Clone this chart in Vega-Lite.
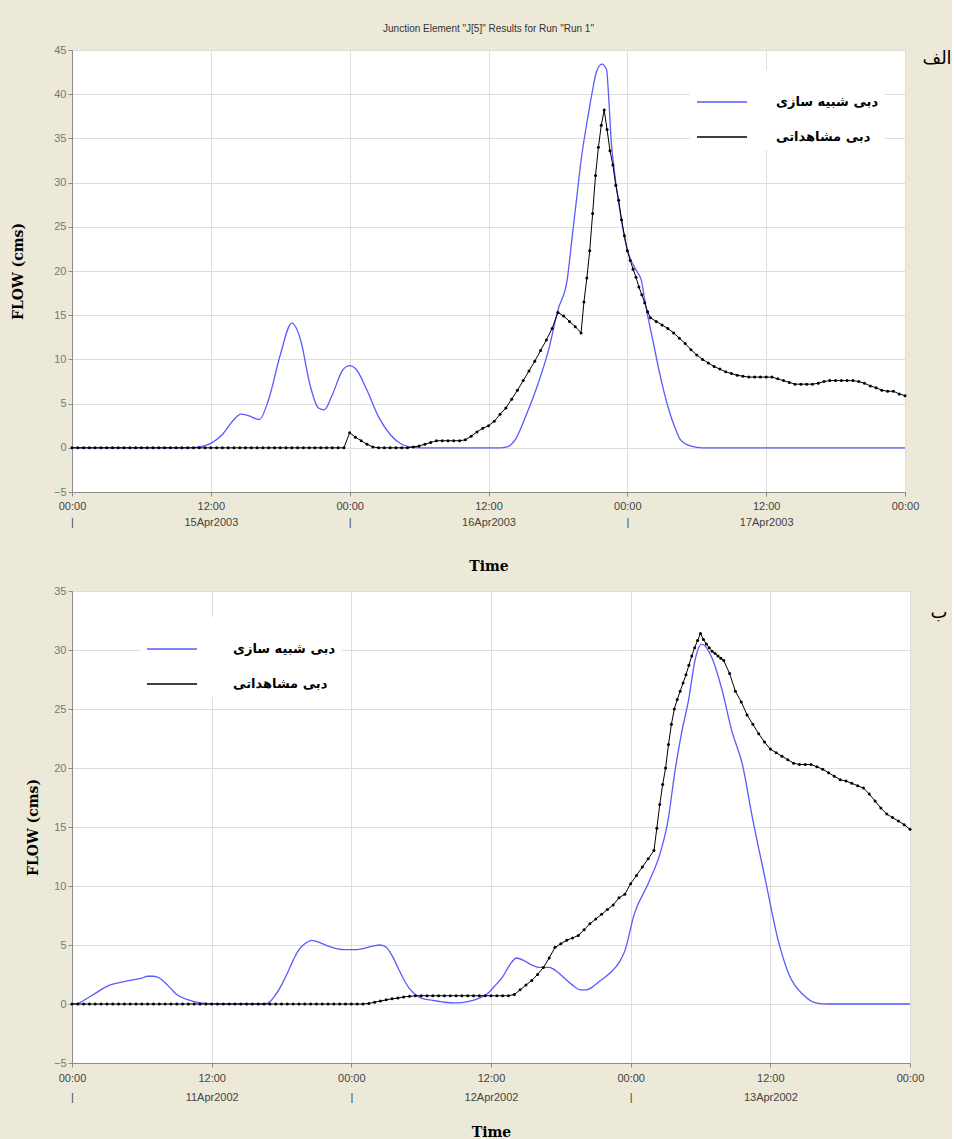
{
"$schema": "https://vega.github.io/schema/vega-lite/v6.json",
"background": "#ECE9D8",
"padding": {"left": 10, "top": 23, "right": 0, "bottom": 0},
"spacing": 10,
"resolve": {"scale": {"color": "independent"}, "legend": {"color": "independent"}},
"config": {
  "view": {"stroke": "#9a9a9a", "fill": "white"},
  "axis": {"domainColor": "#8c8c8c", "tickColor": "#8c8c8c", "tickSize": 4, "gridColor": "#dedede", "labelFont": "Liberation Sans", "labelFontSize": 11, "titleFont": "DejaVu Serif", "titleFontSize": 14, "titleFontWeight": "bold", "titleColor": "black"},
  "axisX": {"labelColor": "#444444"},
  "axisY": {"labelColor": "#777777"}
},
"datasets": {
"topSim": [
{"t":"2003-04-15T00:00Z","v":0},{"t":"2003-04-15T10:00Z","v":0},{"t":"2003-04-15T11:00Z","v":0.1},{"t":"2003-04-15T12:00Z","v":0.5},{"t":"2003-04-15T13:00Z","v":1.5},{"t":"2003-04-15T14:00Z","v":3.2},{"t":"2003-04-15T14:36Z","v":3.8},{"t":"2003-04-15T15:18Z","v":3.6},{"t":"2003-04-15T16:12Z","v":3.2},{"t":"2003-04-15T17:00Z","v":5.5},{"t":"2003-04-15T18:00Z","v":10.5},{"t":"2003-04-15T19:00Z","v":14.1},{"t":"2003-04-15T19:48Z","v":12.0},{"t":"2003-04-15T20:30Z","v":7.5},{"t":"2003-04-15T21:18Z","v":4.5},{"t":"2003-04-15T21:48Z","v":4.3},{"t":"2003-04-15T22:30Z","v":6.0},{"t":"2003-04-15T23:24Z","v":8.8},
{"t":"2003-04-16T00:00Z","v":9.3},{"t":"2003-04-16T00:36Z","v":8.8},{"t":"2003-04-16T01:30Z","v":6.5},{"t":"2003-04-16T02:30Z","v":3.5},{"t":"2003-04-16T03:30Z","v":1.5},{"t":"2003-04-16T04:30Z","v":0.4},{"t":"2003-04-16T05:30Z","v":0.05},{"t":"2003-04-16T06:00Z","v":0},{"t":"2003-04-16T13:00Z","v":0},{"t":"2003-04-16T13:36Z","v":0.1},{"t":"2003-04-16T14:18Z","v":0.9},{"t":"2003-04-16T15:12Z","v":3.5},{"t":"2003-04-16T16:18Z","v":7.3},{"t":"2003-04-16T17:12Z","v":11.1},{"t":"2003-04-16T18:00Z","v":15.6},{"t":"2003-04-16T18:48Z","v":19.0},{"t":"2003-04-16T19:12Z","v":23.5},{"t":"2003-04-16T19:36Z","v":28.0},{"t":"2003-04-16T20:00Z","v":32.5},{"t":"2003-04-16T20:36Z","v":37.5},{"t":"2003-04-16T21:00Z","v":40.5},{"t":"2003-04-16T21:18Z","v":42.4},{"t":"2003-04-16T21:48Z","v":43.4},{"t":"2003-04-16T22:12Z","v":42.8},{"t":"2003-04-16T22:24Z","v":39.4},{"t":"2003-04-16T22:36Z","v":34.8},{"t":"2003-04-16T22:54Z","v":31.1},{"t":"2003-04-16T23:18Z","v":27.3},{"t":"2003-04-16T23:48Z","v":23.5},
{"t":"2003-04-17T00:12Z","v":21.6},{"t":"2003-04-17T00:54Z","v":19.8},{"t":"2003-04-17T01:12Z","v":19.0},{"t":"2003-04-17T01:36Z","v":16.0},{"t":"2003-04-17T02:12Z","v":12.2},{"t":"2003-04-17T02:48Z","v":8.4},{"t":"2003-04-17T03:30Z","v":4.7},{"t":"2003-04-17T04:12Z","v":2.0},{"t":"2003-04-17T04:36Z","v":0.9},{"t":"2003-04-17T05:30Z","v":0.2},{"t":"2003-04-17T06:30Z","v":0},{"t":"2003-04-18T00:00Z","v":0}
],
"topObs": [
{"t":"2003-04-15T00:00Z","v":0},{"t":"2003-04-15T00:30Z","v":0},{"t":"2003-04-15T01:00Z","v":0},{"t":"2003-04-15T01:30Z","v":0},{"t":"2003-04-15T02:00Z","v":0},{"t":"2003-04-15T02:30Z","v":0},{"t":"2003-04-15T03:00Z","v":0},{"t":"2003-04-15T03:30Z","v":0},{"t":"2003-04-15T04:00Z","v":0},{"t":"2003-04-15T04:30Z","v":0},{"t":"2003-04-15T05:00Z","v":0},{"t":"2003-04-15T05:30Z","v":0},{"t":"2003-04-15T06:00Z","v":0},{"t":"2003-04-15T06:30Z","v":0},{"t":"2003-04-15T07:00Z","v":0},{"t":"2003-04-15T07:30Z","v":0},{"t":"2003-04-15T08:00Z","v":0},{"t":"2003-04-15T08:30Z","v":0},{"t":"2003-04-15T09:00Z","v":0},{"t":"2003-04-15T09:30Z","v":0},{"t":"2003-04-15T10:00Z","v":0},{"t":"2003-04-15T10:30Z","v":0},{"t":"2003-04-15T11:00Z","v":0},{"t":"2003-04-15T11:30Z","v":0},{"t":"2003-04-15T12:00Z","v":0},{"t":"2003-04-15T12:30Z","v":0},{"t":"2003-04-15T13:00Z","v":0},{"t":"2003-04-15T13:30Z","v":0},{"t":"2003-04-15T14:00Z","v":0},{"t":"2003-04-15T14:30Z","v":0},{"t":"2003-04-15T15:00Z","v":0},{"t":"2003-04-15T15:30Z","v":0},{"t":"2003-04-15T16:00Z","v":0},{"t":"2003-04-15T16:30Z","v":0},{"t":"2003-04-15T17:00Z","v":0},{"t":"2003-04-15T17:30Z","v":0},{"t":"2003-04-15T18:00Z","v":0},{"t":"2003-04-15T18:30Z","v":0},{"t":"2003-04-15T19:00Z","v":0},{"t":"2003-04-15T19:30Z","v":0},{"t":"2003-04-15T20:00Z","v":0},{"t":"2003-04-15T20:30Z","v":0},{"t":"2003-04-15T21:00Z","v":0},{"t":"2003-04-15T21:30Z","v":0},{"t":"2003-04-15T22:00Z","v":0},{"t":"2003-04-15T22:30Z","v":0},{"t":"2003-04-15T23:00Z","v":0},{"t":"2003-04-15T23:30Z","v":0},
{"t":"2003-04-16T00:00Z","v":1.7},{"t":"2003-04-16T00:30Z","v":1.2},{"t":"2003-04-16T01:00Z","v":0.8},{"t":"2003-04-16T01:30Z","v":0.4},{"t":"2003-04-16T02:00Z","v":0.1},{"t":"2003-04-16T02:30Z","v":0},{"t":"2003-04-16T03:00Z","v":0},{"t":"2003-04-16T03:30Z","v":0},{"t":"2003-04-16T04:00Z","v":0},{"t":"2003-04-16T04:30Z","v":0},{"t":"2003-04-16T05:00Z","v":0},{"t":"2003-04-16T05:30Z","v":0.1},{"t":"2003-04-16T06:00Z","v":0.2},{"t":"2003-04-16T06:30Z","v":0.4},{"t":"2003-04-16T07:00Z","v":0.6},{"t":"2003-04-16T07:30Z","v":0.8},{"t":"2003-04-16T08:00Z","v":0.8},{"t":"2003-04-16T08:30Z","v":0.8},{"t":"2003-04-16T09:00Z","v":0.8},{"t":"2003-04-16T09:30Z","v":0.8},{"t":"2003-04-16T10:00Z","v":0.9},{"t":"2003-04-16T10:30Z","v":1.3},{"t":"2003-04-16T11:00Z","v":1.8},{"t":"2003-04-16T11:30Z","v":2.2},{"t":"2003-04-16T12:00Z","v":2.5},{"t":"2003-04-16T12:30Z","v":3.0},{"t":"2003-04-16T13:00Z","v":3.8},{"t":"2003-04-16T13:30Z","v":4.5},{"t":"2003-04-16T14:00Z","v":5.5},{"t":"2003-04-16T14:30Z","v":6.5},{"t":"2003-04-16T15:00Z","v":7.6},{"t":"2003-04-16T15:30Z","v":8.7},{"t":"2003-04-16T16:00Z","v":9.8},{"t":"2003-04-16T16:30Z","v":11.0},{"t":"2003-04-16T17:00Z","v":12.2},{"t":"2003-04-16T17:30Z","v":13.5},{"t":"2003-04-16T18:00Z","v":15.3},{"t":"2003-04-16T18:30Z","v":14.9},{"t":"2003-04-16T19:00Z","v":14.3},{"t":"2003-04-16T19:30Z","v":13.7},{"t":"2003-04-16T20:00Z","v":13.0},{"t":"2003-04-16T20:15Z","v":16.5},{"t":"2003-04-16T20:30Z","v":19.2},{"t":"2003-04-16T20:45Z","v":22.3},{"t":"2003-04-16T21:00Z","v":26.5},{"t":"2003-04-16T21:15Z","v":30.8},{"t":"2003-04-16T21:30Z","v":34.0},{"t":"2003-04-16T21:45Z","v":36.5},{"t":"2003-04-16T22:00Z","v":38.2},{"t":"2003-04-16T22:15Z","v":36.0},{"t":"2003-04-16T22:30Z","v":33.6},{"t":"2003-04-16T22:45Z","v":32.0},{"t":"2003-04-16T23:00Z","v":29.7},{"t":"2003-04-16T23:15Z","v":28.0},{"t":"2003-04-16T23:30Z","v":25.8},{"t":"2003-04-16T23:45Z","v":24.0},
{"t":"2003-04-17T00:00Z","v":22.3},{"t":"2003-04-17T00:15Z","v":21.2},{"t":"2003-04-17T00:30Z","v":20.2},{"t":"2003-04-17T00:45Z","v":19.3},{"t":"2003-04-17T01:00Z","v":18.2},{"t":"2003-04-17T01:15Z","v":17.3},{"t":"2003-04-17T01:30Z","v":16.4},{"t":"2003-04-17T01:45Z","v":15.4},{"t":"2003-04-17T02:00Z","v":14.7},{"t":"2003-04-17T02:30Z","v":14.3},{"t":"2003-04-17T03:00Z","v":13.9},{"t":"2003-04-17T03:30Z","v":13.5},{"t":"2003-04-17T04:00Z","v":13.0},{"t":"2003-04-17T04:30Z","v":12.4},{"t":"2003-04-17T05:00Z","v":11.8},{"t":"2003-04-17T05:30Z","v":11.1},{"t":"2003-04-17T06:00Z","v":10.5},{"t":"2003-04-17T06:30Z","v":10.0},{"t":"2003-04-17T07:00Z","v":9.6},{"t":"2003-04-17T07:30Z","v":9.2},{"t":"2003-04-17T08:00Z","v":8.9},{"t":"2003-04-17T08:30Z","v":8.6},{"t":"2003-04-17T09:00Z","v":8.4},{"t":"2003-04-17T09:30Z","v":8.2},{"t":"2003-04-17T10:00Z","v":8.1},{"t":"2003-04-17T10:30Z","v":8.0},{"t":"2003-04-17T11:00Z","v":8.0},{"t":"2003-04-17T11:30Z","v":8.0},{"t":"2003-04-17T12:00Z","v":8.0},{"t":"2003-04-17T12:30Z","v":8.0},{"t":"2003-04-17T13:00Z","v":7.8},{"t":"2003-04-17T13:30Z","v":7.6},{"t":"2003-04-17T14:00Z","v":7.4},{"t":"2003-04-17T14:30Z","v":7.2},{"t":"2003-04-17T15:00Z","v":7.2},{"t":"2003-04-17T15:30Z","v":7.2},{"t":"2003-04-17T16:00Z","v":7.2},{"t":"2003-04-17T16:30Z","v":7.3},{"t":"2003-04-17T17:00Z","v":7.5},{"t":"2003-04-17T17:30Z","v":7.6},{"t":"2003-04-17T18:00Z","v":7.6},{"t":"2003-04-17T18:30Z","v":7.6},{"t":"2003-04-17T19:00Z","v":7.6},{"t":"2003-04-17T19:30Z","v":7.6},{"t":"2003-04-17T20:00Z","v":7.5},{"t":"2003-04-17T20:30Z","v":7.3},{"t":"2003-04-17T21:00Z","v":7.0},{"t":"2003-04-17T21:30Z","v":6.8},{"t":"2003-04-17T22:00Z","v":6.5},{"t":"2003-04-17T22:30Z","v":6.4},{"t":"2003-04-17T23:00Z","v":6.4},{"t":"2003-04-17T23:30Z","v":6.1},{"t":"2003-04-18T00:00Z","v":5.9}
],
"botSim": [
{"t":"2002-04-11T00:00Z","v":0},{"t":"2002-04-11T00:30Z","v":0.05},{"t":"2002-04-11T01:00Z","v":0.3},{"t":"2002-04-11T02:00Z","v":0.9},{"t":"2002-04-11T03:00Z","v":1.5},{"t":"2002-04-11T04:00Z","v":1.8},{"t":"2002-04-11T05:00Z","v":2.0},{"t":"2002-04-11T06:00Z","v":2.2},{"t":"2002-04-11T06:30Z","v":2.35},{"t":"2002-04-11T07:00Z","v":2.35},{"t":"2002-04-11T07:30Z","v":2.2},{"t":"2002-04-11T08:00Z","v":1.8},{"t":"2002-04-11T08:30Z","v":1.3},{"t":"2002-04-11T09:00Z","v":0.8},{"t":"2002-04-11T10:00Z","v":0.35},{"t":"2002-04-11T11:00Z","v":0.1},{"t":"2002-04-11T12:00Z","v":0.02},{"t":"2002-04-11T13:00Z","v":0},{"t":"2002-04-11T16:30Z","v":0},{"t":"2002-04-11T17:00Z","v":0.2},{"t":"2002-04-11T17:30Z","v":0.8},{"t":"2002-04-11T18:00Z","v":1.6},{"t":"2002-04-11T18:30Z","v":2.6},{"t":"2002-04-11T19:00Z","v":3.7},{"t":"2002-04-11T19:30Z","v":4.6},{"t":"2002-04-11T20:00Z","v":5.1},{"t":"2002-04-11T20:36Z","v":5.4},{"t":"2002-04-11T21:18Z","v":5.2},{"t":"2002-04-11T22:00Z","v":4.9},{"t":"2002-04-11T22:42Z","v":4.7},{"t":"2002-04-11T23:30Z","v":4.6},
{"t":"2002-04-12T00:12Z","v":4.6},{"t":"2002-04-12T01:00Z","v":4.7},{"t":"2002-04-12T01:48Z","v":4.9},{"t":"2002-04-12T02:30Z","v":5.0},{"t":"2002-04-12T03:00Z","v":4.8},{"t":"2002-04-12T03:30Z","v":4.1},{"t":"2002-04-12T04:00Z","v":3.1},{"t":"2002-04-12T04:30Z","v":2.1},{"t":"2002-04-12T05:00Z","v":1.3},{"t":"2002-04-12T05:30Z","v":0.8},{"t":"2002-04-12T06:00Z","v":0.5},{"t":"2002-04-12T07:00Z","v":0.3},{"t":"2002-04-12T08:00Z","v":0.15},{"t":"2002-04-12T09:00Z","v":0.1},{"t":"2002-04-12T10:00Z","v":0.2},{"t":"2002-04-12T11:00Z","v":0.5},{"t":"2002-04-12T11:36Z","v":0.8},{"t":"2002-04-12T12:18Z","v":1.5},{"t":"2002-04-12T13:00Z","v":2.3},{"t":"2002-04-12T13:36Z","v":3.3},{"t":"2002-04-12T14:12Z","v":3.9},{"t":"2002-04-12T14:48Z","v":3.7},{"t":"2002-04-12T15:30Z","v":3.3},{"t":"2002-04-12T16:12Z","v":3.1},{"t":"2002-04-12T17:00Z","v":3.1},{"t":"2002-04-12T17:36Z","v":2.8},{"t":"2002-04-12T18:18Z","v":2.2},{"t":"2002-04-12T19:00Z","v":1.6},{"t":"2002-04-12T19:42Z","v":1.2},{"t":"2002-04-12T20:12Z","v":1.2},{"t":"2002-04-12T20:48Z","v":1.5},{"t":"2002-04-12T21:18Z","v":1.9},{"t":"2002-04-12T22:12Z","v":2.6},{"t":"2002-04-12T23:00Z","v":3.5},{"t":"2002-04-12T23:30Z","v":4.5},
{"t":"2002-04-13T00:18Z","v":7.6},{"t":"2002-04-13T01:30Z","v":10.2},{"t":"2002-04-13T02:36Z","v":13.0},{"t":"2002-04-13T03:12Z","v":15.5},{"t":"2002-04-13T03:48Z","v":19.7},{"t":"2002-04-13T04:24Z","v":23.1},{"t":"2002-04-13T05:00Z","v":25.9},{"t":"2002-04-13T05:30Z","v":29.0},{"t":"2002-04-13T06:06Z","v":30.5},{"t":"2002-04-13T07:00Z","v":29.3},{"t":"2002-04-13T07:48Z","v":26.8},{"t":"2002-04-13T08:42Z","v":23.1},{"t":"2002-04-13T09:36Z","v":20.3},{"t":"2002-04-13T10:24Z","v":16.1},{"t":"2002-04-13T11:36Z","v":10.4},{"t":"2002-04-13T12:42Z","v":5.3},{"t":"2002-04-13T13:36Z","v":2.5},{"t":"2002-04-13T14:48Z","v":0.8},{"t":"2002-04-13T15:54Z","v":0.1},{"t":"2002-04-13T17:00Z","v":0},{"t":"2002-04-14T00:00Z","v":0}
],
"botObs": [
{"t":"2002-04-11T00:00Z","v":0},{"t":"2002-04-11T00:30Z","v":0},{"t":"2002-04-11T01:00Z","v":0},{"t":"2002-04-11T01:30Z","v":0},{"t":"2002-04-11T02:00Z","v":0},{"t":"2002-04-11T02:30Z","v":0},{"t":"2002-04-11T03:00Z","v":0},{"t":"2002-04-11T03:30Z","v":0},{"t":"2002-04-11T04:00Z","v":0},{"t":"2002-04-11T04:30Z","v":0},{"t":"2002-04-11T05:00Z","v":0},{"t":"2002-04-11T05:30Z","v":0},{"t":"2002-04-11T06:00Z","v":0},{"t":"2002-04-11T06:30Z","v":0},{"t":"2002-04-11T07:00Z","v":0},{"t":"2002-04-11T07:30Z","v":0},{"t":"2002-04-11T08:00Z","v":0},{"t":"2002-04-11T08:30Z","v":0},{"t":"2002-04-11T09:00Z","v":0},{"t":"2002-04-11T09:30Z","v":0},{"t":"2002-04-11T10:00Z","v":0},{"t":"2002-04-11T10:30Z","v":0},{"t":"2002-04-11T11:00Z","v":0},{"t":"2002-04-11T11:30Z","v":0},{"t":"2002-04-11T12:00Z","v":0},{"t":"2002-04-11T12:30Z","v":0},{"t":"2002-04-11T13:00Z","v":0},{"t":"2002-04-11T13:30Z","v":0},{"t":"2002-04-11T14:00Z","v":0},{"t":"2002-04-11T14:30Z","v":0},{"t":"2002-04-11T15:00Z","v":0},{"t":"2002-04-11T15:30Z","v":0},{"t":"2002-04-11T16:00Z","v":0},{"t":"2002-04-11T16:30Z","v":0},{"t":"2002-04-11T17:00Z","v":0},{"t":"2002-04-11T17:30Z","v":0},{"t":"2002-04-11T18:00Z","v":0},{"t":"2002-04-11T18:30Z","v":0},{"t":"2002-04-11T19:00Z","v":0},{"t":"2002-04-11T19:30Z","v":0},{"t":"2002-04-11T20:00Z","v":0},{"t":"2002-04-11T20:30Z","v":0},{"t":"2002-04-11T21:00Z","v":0},{"t":"2002-04-11T21:30Z","v":0},{"t":"2002-04-11T22:00Z","v":0},{"t":"2002-04-11T22:30Z","v":0},{"t":"2002-04-11T23:00Z","v":0},{"t":"2002-04-11T23:30Z","v":0},
{"t":"2002-04-12T00:00Z","v":0},{"t":"2002-04-12T00:30Z","v":0},{"t":"2002-04-12T01:00Z","v":0},{"t":"2002-04-12T01:30Z","v":0.05},{"t":"2002-04-12T02:00Z","v":0.15},{"t":"2002-04-12T02:30Z","v":0.25},{"t":"2002-04-12T03:00Z","v":0.35},{"t":"2002-04-12T03:30Z","v":0.45},{"t":"2002-04-12T04:00Z","v":0.5},{"t":"2002-04-12T04:30Z","v":0.6},{"t":"2002-04-12T05:00Z","v":0.65},{"t":"2002-04-12T05:30Z","v":0.7},{"t":"2002-04-12T06:00Z","v":0.7},{"t":"2002-04-12T06:30Z","v":0.7},{"t":"2002-04-12T07:00Z","v":0.7},{"t":"2002-04-12T07:30Z","v":0.7},{"t":"2002-04-12T08:00Z","v":0.7},{"t":"2002-04-12T08:30Z","v":0.7},{"t":"2002-04-12T09:00Z","v":0.7},{"t":"2002-04-12T09:30Z","v":0.7},{"t":"2002-04-12T10:00Z","v":0.7},{"t":"2002-04-12T10:30Z","v":0.7},{"t":"2002-04-12T11:00Z","v":0.7},{"t":"2002-04-12T11:30Z","v":0.7},{"t":"2002-04-12T12:00Z","v":0.7},{"t":"2002-04-12T12:30Z","v":0.7},{"t":"2002-04-12T13:00Z","v":0.7},{"t":"2002-04-12T13:30Z","v":0.7},{"t":"2002-04-12T14:00Z","v":0.8},{"t":"2002-04-12T14:30Z","v":1.2},{"t":"2002-04-12T15:00Z","v":1.6},{"t":"2002-04-12T15:30Z","v":2.0},{"t":"2002-04-12T16:00Z","v":2.5},{"t":"2002-04-12T16:30Z","v":3.1},{"t":"2002-04-12T17:00Z","v":3.9},{"t":"2002-04-12T17:30Z","v":4.8},{"t":"2002-04-12T18:00Z","v":5.1},{"t":"2002-04-12T18:30Z","v":5.4},{"t":"2002-04-12T19:00Z","v":5.6},{"t":"2002-04-12T19:30Z","v":5.8},{"t":"2002-04-12T20:00Z","v":6.3},{"t":"2002-04-12T20:30Z","v":6.8},{"t":"2002-04-12T21:00Z","v":7.2},{"t":"2002-04-12T21:30Z","v":7.6},{"t":"2002-04-12T22:00Z","v":8.0},{"t":"2002-04-12T22:30Z","v":8.4},{"t":"2002-04-12T23:00Z","v":9.0},{"t":"2002-04-12T23:30Z","v":9.3},
{"t":"2002-04-13T00:00Z","v":10.2},{"t":"2002-04-13T00:30Z","v":10.9},{"t":"2002-04-13T01:00Z","v":11.6},{"t":"2002-04-13T01:30Z","v":12.3},{"t":"2002-04-13T02:00Z","v":13.0},{"t":"2002-04-13T02:15Z","v":14.9},{"t":"2002-04-13T02:30Z","v":16.9},{"t":"2002-04-13T02:45Z","v":18.6},{"t":"2002-04-13T03:00Z","v":20.0},{"t":"2002-04-13T03:15Z","v":22.0},{"t":"2002-04-13T03:30Z","v":23.7},{"t":"2002-04-13T03:45Z","v":25.0},{"t":"2002-04-13T04:00Z","v":25.8},{"t":"2002-04-13T04:15Z","v":26.5},{"t":"2002-04-13T04:30Z","v":27.2},{"t":"2002-04-13T04:45Z","v":27.9},{"t":"2002-04-13T05:00Z","v":28.7},{"t":"2002-04-13T05:15Z","v":29.5},{"t":"2002-04-13T05:30Z","v":30.2},{"t":"2002-04-13T05:45Z","v":30.8},{"t":"2002-04-13T06:00Z","v":31.4},{"t":"2002-04-13T06:15Z","v":30.9},{"t":"2002-04-13T06:30Z","v":30.5},{"t":"2002-04-13T06:45Z","v":30.2},{"t":"2002-04-13T07:00Z","v":29.9},{"t":"2002-04-13T07:15Z","v":29.7},{"t":"2002-04-13T07:30Z","v":29.5},{"t":"2002-04-13T07:45Z","v":29.3},{"t":"2002-04-13T08:00Z","v":29.1},{"t":"2002-04-13T08:30Z","v":28.0},{"t":"2002-04-13T09:00Z","v":26.5},{"t":"2002-04-13T09:30Z","v":25.6},{"t":"2002-04-13T10:00Z","v":24.5},{"t":"2002-04-13T10:30Z","v":23.7},{"t":"2002-04-13T11:00Z","v":22.9},{"t":"2002-04-13T11:30Z","v":22.2},{"t":"2002-04-13T12:00Z","v":21.6},{"t":"2002-04-13T12:30Z","v":21.3},{"t":"2002-04-13T13:00Z","v":21.0},{"t":"2002-04-13T13:30Z","v":20.7},{"t":"2002-04-13T14:00Z","v":20.4},{"t":"2002-04-13T14:30Z","v":20.3},{"t":"2002-04-13T15:00Z","v":20.3},{"t":"2002-04-13T15:30Z","v":20.3},{"t":"2002-04-13T16:00Z","v":20.1},{"t":"2002-04-13T16:30Z","v":19.9},{"t":"2002-04-13T17:00Z","v":19.6},{"t":"2002-04-13T17:30Z","v":19.3},{"t":"2002-04-13T18:00Z","v":19.0},{"t":"2002-04-13T18:30Z","v":18.9},{"t":"2002-04-13T19:00Z","v":18.7},{"t":"2002-04-13T19:30Z","v":18.5},{"t":"2002-04-13T20:00Z","v":18.3},{"t":"2002-04-13T20:30Z","v":17.8},{"t":"2002-04-13T21:00Z","v":17.2},{"t":"2002-04-13T21:30Z","v":16.6},{"t":"2002-04-13T22:00Z","v":16.1},{"t":"2002-04-13T22:30Z","v":15.8},{"t":"2002-04-13T23:00Z","v":15.5},{"t":"2002-04-13T23:30Z","v":15.2},{"t":"2002-04-14T00:00Z","v":14.8}
]
},
"vconcat": [
{
  "width": 833, "height": 442,
  "title": {"text": "Junction Element \"J[5]\" Results for Run \"Run 1\"", "font": "Liberation Sans", "fontSize": 10, "fontWeight": "normal", "color": "#333333", "offset": 10},
  "resolve": {"axis": {"y": "independent"}},
  "layer": [
    {
      "data": {"name": "topSim"},
      "mark": {"type": "line", "interpolate": "monotone", "strokeWidth": 1.3},
      "encoding": {
        "x": {"field": "t", "type": "temporal", "scale": {"type": "utc", "nice": false, "domain": [{"year": 2003, "month": 4, "date": 15, "utc": true}, {"year": 2003, "month": 4, "date": 18, "utc": true}]},
              "axis": {"title": "Time", "values": [{"year": 2003, "month": 4, "date": 15, "hours": 0, "utc": true}, {"year": 2003, "month": 4, "date": 15, "hours": 12, "utc": true}, {"year": 2003, "month": 4, "date": 16, "hours": 0, "utc": true}, {"year": 2003, "month": 4, "date": 16, "hours": 12, "utc": true}, {"year": 2003, "month": 4, "date": 17, "hours": 0, "utc": true}, {"year": 2003, "month": 4, "date": 17, "hours": 12, "utc": true}, {"year": 2003, "month": 4, "date": 18, "hours": 0, "utc": true}],
                       "labelFlush": false, "labelOverlap": false, "labelPadding": 4, "labelLineHeight": 16, "titlePadding": 32,
                       "labelExpr": "utchours(datum.value) == 12 ? ['12:00', utcFormat(datum.value, '%d%b%Y')] : (utcdate(datum.value) == 18 ? '00:00' : ['00:00', '|'])"}},
        "y": {"field": "v", "type": "quantitative", "scale": {"domain": [-5, 45], "nice": false, "zero": false},
              "axis": {"title": "FLOW (cms)", "values": [-5, 0, 5, 10, 15, 20, 25, 30, 35, 40, 45], "labelPadding": 2, "titlePadding": 28}},
        "color": {"datum": "دبی شبیه سازی", "type": "nominal",
                  "scale": {"domain": ["دبی شبیه سازی", "دبی مشاهداتی"], "range": ["#5a5aff", "#000000"]},
                  "legend": {"orient": "none", "legendX": 618, "legendY": 20, "title": null, "symbolType": "stroke", "symbolSize": 2500, "symbolStrokeWidth": 1.5, "labelFont": "DejaVu Sans", "labelFontWeight": "bold", "labelFontSize": 13, "labelColor": "black", "labelOffset": 28, "labelLimit": 300, "fillColor": "white", "padding": 6}}
      }
    },
    {
      "data": {"name": "topObs"},
      "mark": {"type": "line", "strokeWidth": 1, "point": {"filled": true, "size": 9}},
      "encoding": {
        "x": {"field": "t", "type": "temporal"},
        "y": {"field": "v", "type": "quantitative",
              "axis": {"orient": "right", "title": "الف", "grid": false, "ticks": false, "labels": false, "domain": false, "titleAngle": 0, "titleAlign": "left", "titleBaseline": "middle", "titleX": 17, "titleY": 8, "titleFont": "DejaVu Sans", "titleFontWeight": "normal", "titleFontSize": 18}},
        "color": {"datum": "دبی مشاهداتی", "type": "nominal"}
      }
    }
  ]
},
{
  "width": 838, "height": 472,
  "resolve": {"axis": {"y": "independent"}},
  "layer": [
    {
      "data": {"name": "botSim"},
      "mark": {"type": "line", "interpolate": "monotone", "strokeWidth": 1.3},
      "encoding": {
        "x": {"field": "t", "type": "temporal", "scale": {"type": "utc", "nice": false, "domain": [{"year": 2002, "month": 4, "date": 11, "utc": true}, {"year": 2002, "month": 4, "date": 14, "utc": true}]},
              "axis": {"title": "Time", "values": [{"year": 2002, "month": 4, "date": 11, "hours": 0, "utc": true}, {"year": 2002, "month": 4, "date": 11, "hours": 12, "utc": true}, {"year": 2002, "month": 4, "date": 12, "hours": 0, "utc": true}, {"year": 2002, "month": 4, "date": 12, "hours": 12, "utc": true}, {"year": 2002, "month": 4, "date": 13, "hours": 0, "utc": true}, {"year": 2002, "month": 4, "date": 13, "hours": 12, "utc": true}, {"year": 2002, "month": 4, "date": 14, "hours": 0, "utc": true}],
                       "labelFlush": false, "labelOverlap": false, "labelPadding": 5, "labelLineHeight": 19, "titlePadding": 23,
                       "labelExpr": "utchours(datum.value) == 12 ? ['12:00', utcFormat(datum.value, '%d%b%Y')] : (utcdate(datum.value) == 14 ? '00:00' : ['00:00', '|'])"}},
        "y": {"field": "v", "type": "quantitative", "scale": {"domain": [-5, 35], "nice": false, "zero": false},
              "axis": {"title": "FLOW (cms)", "values": [-5, 0, 5, 10, 15, 20, 25, 30, 35], "labelPadding": 2, "titlePadding": 13}},
        "color": {"datum": "دبی شبیه سازی", "type": "nominal",
                  "scale": {"domain": ["دبی شبیه سازی", "دبی مشاهداتی"], "range": ["#5a5aff", "#000000"]},
                  "legend": {"orient": "none", "legendX": 68, "legendY": 26, "title": null, "symbolType": "stroke", "symbolSize": 2500, "symbolStrokeWidth": 1.5, "labelFont": "DejaVu Sans", "labelFontWeight": "bold", "labelFontSize": 13, "labelColor": "black", "labelOffset": 35, "labelLimit": 300, "fillColor": "white", "padding": 6}}
      }
    },
    {
      "data": {"name": "botObs"},
      "mark": {"type": "line", "strokeWidth": 1, "point": {"filled": true, "size": 9}},
      "encoding": {
        "x": {"field": "t", "type": "temporal"},
        "y": {"field": "v", "type": "quantitative",
              "axis": {"orient": "right", "title": "ب", "grid": false, "ticks": false, "labels": false, "domain": false, "titleAngle": 0, "titleAlign": "left", "titleBaseline": "middle", "titleX": 20, "titleY": 21, "titleFont": "DejaVu Sans", "titleFontWeight": "normal", "titleFontSize": 18}},
        "color": {"datum": "دبی مشاهداتی", "type": "nominal"}
      }
    }
  ]
}
]
}
